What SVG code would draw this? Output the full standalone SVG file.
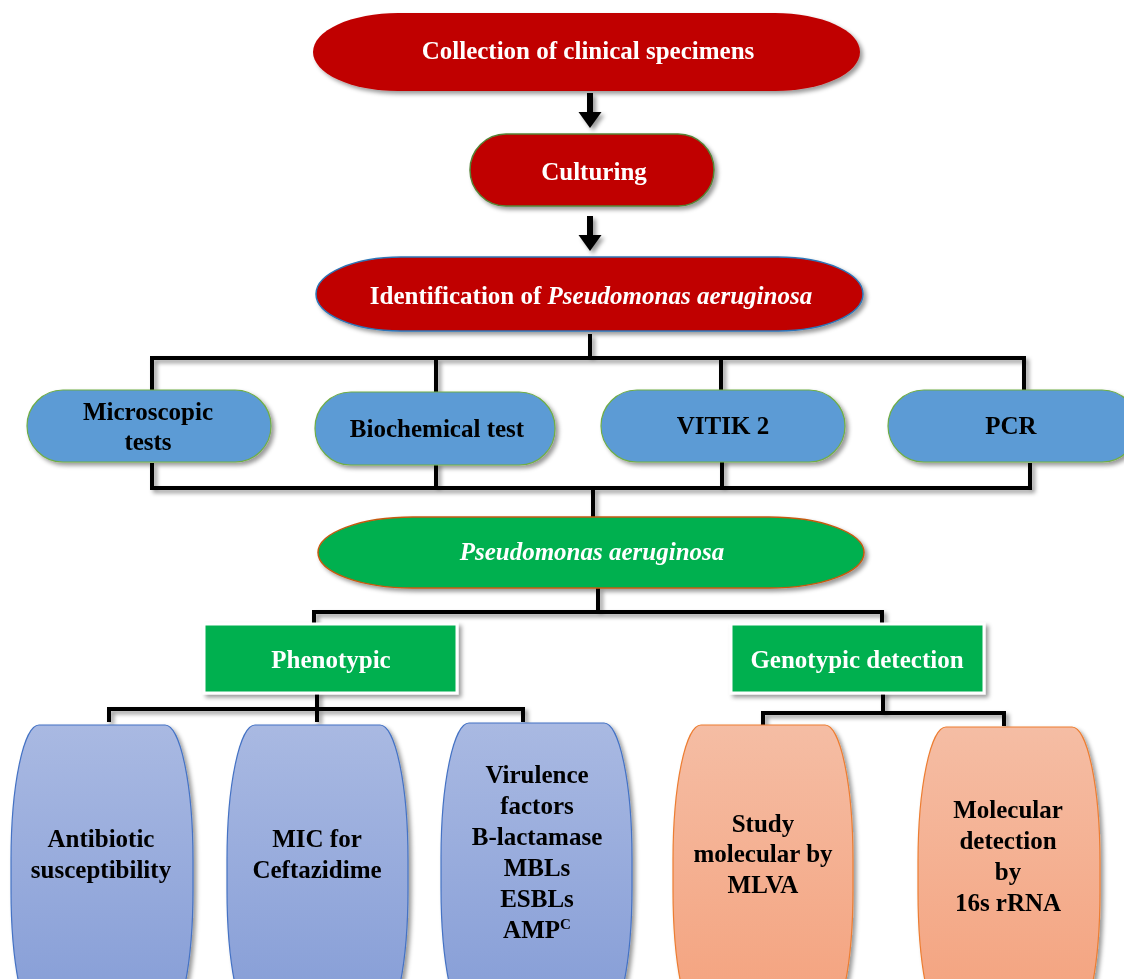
<svg xmlns="http://www.w3.org/2000/svg" width="1124" height="979" viewBox="0 0 1124 979">
<defs>
<filter id="sh" x="-10%" y="-10%" width="130%" height="140%">
<feDropShadow dx="3" dy="3" stdDeviation="2" flood-color="#000" flood-opacity="0.4"/>
</filter>
<linearGradient id="gBlue" x1="0" y1="0" x2="0" y2="1">
<stop offset="0" stop-color="#A9B9E2"/>
<stop offset="1" stop-color="#849CD6"/>
</linearGradient>
<linearGradient id="gOrange" x1="0" y1="0" x2="0" y2="1">
<stop offset="0" stop-color="#F5BDA4"/>
<stop offset="1" stop-color="#F4A17C"/>
</linearGradient>
<style>
text{font-family:"Liberation Serif","Times New Roman",serif;font-weight:bold;font-size:25px;text-anchor:middle}
.w{fill:#fff}
.k{fill:#000}
.red{fill:#C00000}
.blue{fill:#5B9BD5;stroke:#70AD47;stroke-width:1.2}
.grn{fill:#00B050}
.tallb{fill:url(#gBlue);stroke:#4472C4;stroke-width:1.2}
.tallo{fill:url(#gOrange);stroke:#ED7D31;stroke-width:1.2}
.ln{fill:none;stroke:#000;stroke-width:4;stroke-linecap:square}
</style>
</defs>

<g id="connectors" filter="url(#sh)">
<path class="k" d="M587 93 h6 v19 h8.5 l-11.5 16 l-11.5 -16 h8.5 z"/>
<path class="k" d="M587 216 h6 v19 h8.5 l-11.5 16 l-11.5 -16 h8.5 z"/>
<path class="ln" d="M590 336 V358 M152 390 V358 H1024 V390 M436 358 V392 M721 358 V390"/>
<path class="ln" d="M152 465 V488 H1030 V465 M436 465 V488 M722 462 V488 M593 488 V516"/>
<path class="ln" d="M598 590 V612 M314 624 V612 H882 V624"/>
<path class="ln" d="M317 694 V709 M109 720 V709 H523 V720 M317 709 V720"/>
<path class="ln" d="M883 694 V713 M763 724 V713 H1004 V724"/>
</g>

<g id="n-collection" filter="url(#sh)">
<rect class="red" x="313" y="13" width="547" height="78" rx="85" ry="39"/>
<text class="w" x="588" y="59">Collection of clinical specimens</text>
</g>
<g id="n-culturing" filter="url(#sh)">
<rect class="red" x="470" y="134" width="244" height="72" rx="36" ry="36" stroke="#548235" stroke-width="1.5"/>
<text class="w" x="594" y="180">Culturing</text>
</g>
<g id="n-identification" filter="url(#sh)">
<rect class="red" x="316" y="257" width="547" height="74" rx="85" ry="37" stroke="#2E75B6" stroke-width="1.5"/>
<text class="w" x="591" y="304">Identification of <tspan font-style="italic">Pseudomonas aeruginosa</tspan></text>
</g>

<g id="n-microscopic" filter="url(#sh)">
<rect class="blue" x="27" y="390" width="244" height="72" rx="36" ry="36"/>
<text class="k" x="148" y="420">Microscopic</text>
<text class="k" x="148" y="450">tests</text>
</g>
<g id="n-biochemical" filter="url(#sh)">
<rect class="blue" x="315" y="392" width="240" height="73" rx="36" ry="36"/>
<text class="k" x="437" y="437">Biochemical test</text>
</g>
<g id="n-vitik" filter="url(#sh)">
<rect class="blue" x="601" y="390" width="244" height="72" rx="36" ry="36"/>
<text class="k" x="723" y="434">VITIK 2</text>
</g>
<g id="n-pcr" filter="url(#sh)">
<rect class="blue" x="888" y="390" width="250" height="72" rx="36" ry="36"/>
<text class="k" x="1011" y="434">PCR</text>
</g>

<g id="n-pseudomonas" filter="url(#sh)">
<rect class="grn" x="318" y="517" width="546" height="71" rx="95" ry="35.5" stroke="#C55A11" stroke-width="1.5"/>
<text class="w" x="592" y="560" font-style="italic" font-weight="normal">Pseudomonas aeruginosa</text>
</g>

<g id="n-phenotypic" filter="url(#sh)">
<rect class="grn" x="204" y="624" width="253" height="69" stroke="#fff" stroke-width="3"/>
<text class="w" x="331" y="668">Phenotypic</text>
</g>
<g id="n-genotypic" filter="url(#sh)">
<rect class="grn" x="731" y="624" width="253" height="69" stroke="#fff" stroke-width="3"/>
<text class="w" x="857" y="668">Genotypic detection</text>
</g>

<g id="n-antibiotic" filter="url(#sh)">
<rect class="tallb" x="11" y="725" width="182" height="300" rx="28" ry="135"/>
<text class="k" x="101" y="847">Antibiotic</text>
<text class="k" x="101" y="878">susceptibility</text>
</g>
<g id="n-mic" filter="url(#sh)">
<rect class="tallb" x="227" y="725" width="181" height="300" rx="28" ry="135"/>
<text class="k" x="317" y="847">MIC for</text>
<text class="k" x="317" y="878">Ceftazidime</text>
</g>
<g id="n-virulence" filter="url(#sh)">
<rect class="tallb" x="441" y="723" width="191" height="300" rx="28" ry="135"/>
<text class="k" x="537" y="783">Virulence</text>
<text class="k" x="537" y="814">factors</text>
<text class="k" x="537" y="845">B-lactamase</text>
<text class="k" x="537" y="876">MBLs</text>
<text class="k" x="537" y="907">ESBLs</text>
<text class="k" x="537" y="938">AMP<tspan font-size="15" dy="-9">C</tspan></text>
</g>

<g id="n-mlva" filter="url(#sh)">
<rect class="tallo" x="673" y="725" width="180" height="300" rx="28" ry="135"/>
<text class="k" x="763" y="832">Study</text>
<text class="k" x="763" y="862">molecular by</text>
<text class="k" x="763" y="893">MLVA</text>
</g>
<g id="n-16s" filter="url(#sh)">
<rect class="tallo" x="918" y="727" width="182" height="300" rx="28" ry="135"/>
<text class="k" x="1008" y="818">Molecular</text>
<text class="k" x="1008" y="849">detection</text>
<text class="k" x="1008" y="880">by</text>
<text class="k" x="1008" y="911">16s rRNA</text>
</g>
</svg>
